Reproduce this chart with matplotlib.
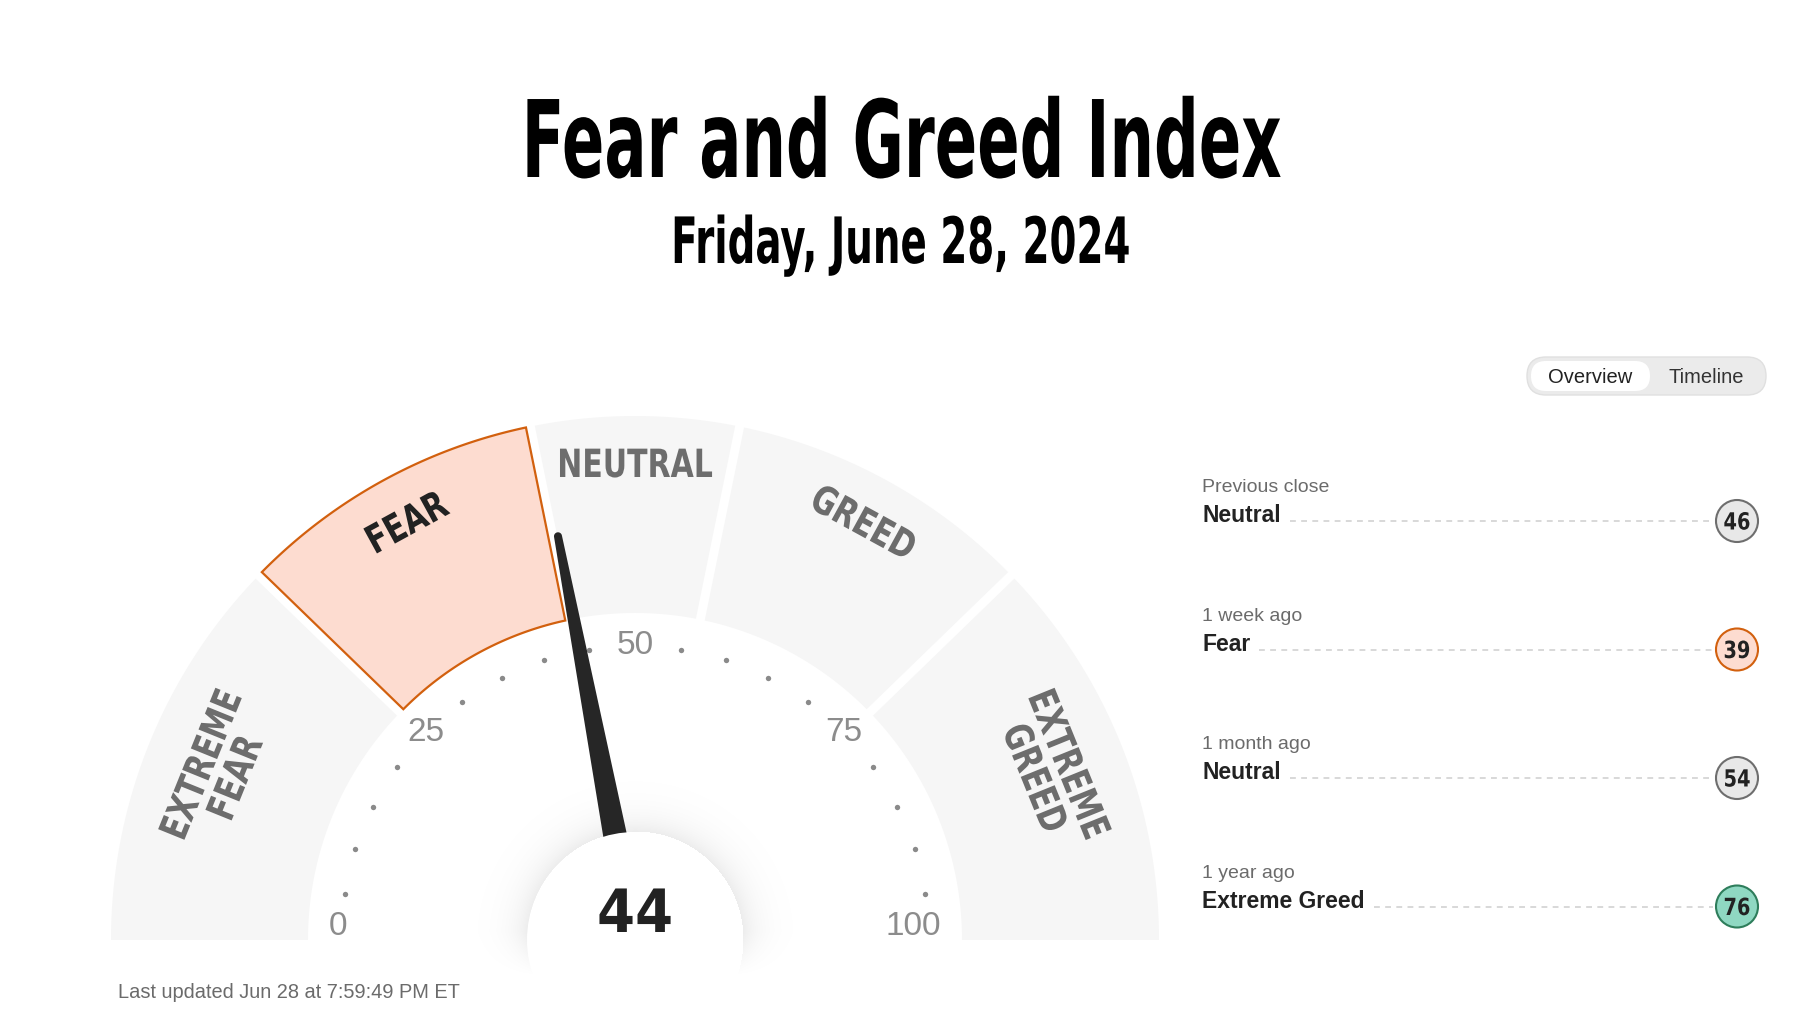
import numpy as np
import matplotlib
matplotlib.use("Agg")
import matplotlib.pyplot as plt
from matplotlib.patches import Polygon, Circle, FancyBboxPatch
from matplotlib.patheffects import AbstractPathEffect
from matplotlib.path import Path
from matplotlib import font_manager as fm

# ---------------- data ----------------
title = "Fear and Greed Index"
subtitle = "Friday, June 28, 2024"
current_value = 44
current_zone = "FEAR"
zone_names = ["EXTREME\nFEAR", "FEAR", "NEUTRAL", "GREED", "EXTREME\nGREED"]
zone_edges = [0, 24.5, 43.6, 56.4, 75.5, 100]
tick_major = [0, 25, 50, 75, 100]
tick_step = 5
history_periods = ["Previous close", "1 week ago", "1 month ago", "1 year ago"]
history_ratings = ["Neutral", "Fear", "Neutral", "Extreme Greed"]
history_values = [46, 39, 54, 76]
toggle_labels = ["Overview", "Timeline"]
updated_text = "Last updated Jun 28 at 7:59:49 PM ET"

# ---------------- setup ----------------
W, H = 1800, 1020
fig = plt.figure(figsize=(18, 10.2), dpi=100)
ax = fig.add_axes([0, 0, 1, 1])
ax.set_xlim(0, W)
ax.set_ylim(H, 0)
ax.axis("off")
PX = 72 / 100.0

names = {f.name for f in fm.fontManager.ttflist}
COND = "Liberation Sans Narrow" if "Liberation Sans Narrow" in names else "DejaVu Sans"
SANS = "Liberation Sans" if "Liberation Sans" in names else "DejaVu Sans"
renderer = fig.canvas.get_renderer()


class HStretch(AbstractPathEffect):
    """Horizontally compress glyph outlines (keeps the Text artist)."""

    def __init__(self, sx, anchor="center"):
        super().__init__()
        self.sx = sx
        self.anchor = anchor

    def draw_path(self, renderer, gc, tpath, affine, rgbFace=None):
        v = np.array(tpath.vertices, dtype=float).copy()
        codes = tpath.codes
        if len(v):
            m = np.ones(len(v), bool) if codes is None else (codes != Path.CLOSEPOLY)
            xs = v[m, 0]
            if len(xs):
                x0 = xs.min() if self.anchor == "left" else (xs.min() + xs.max()) / 2
                v[:, 0] = x0 + (v[:, 0] - x0) * self.sx
        renderer.draw_path(gc, Path(v, codes), affine, rgbFace)


def ctext(x, y, s, cap_px, width_px=None, sx=None, rotation=0, ha="center",
          va="baseline", color="black", family=None, weight="bold", zorder=6, **kw):
    family = family or COND
    size = cap_px / 0.72 * PX
    t = ax.text(x, y, s, fontsize=size, family=family, weight=weight, color=color,
                ha=ha, va=va, rotation_mode="anchor", zorder=zorder, **kw)
    if width_px is not None:
        w = t.get_window_extent(renderer).width
        sx = width_px / w
    if sx is not None:
        t.set_path_effects([HStretch(sx, "left" if ha == "left" else "center")])
    t.set_rotation(rotation)
    return t, sx


# ---------------- titles ----------------
ctext(900, 178, title, 77, width_px=760, color="black")
ctext(900, 264, subtitle, 46, width_px=459, color="black")

# ---------------- gauge ----------------
cx, cy = 635, 941
R_OUT, R_IN = 524, 327
GAP = 9


def theta(v):
    return np.pi * (1 - v / 100.0)


def polar(v, r):
    th = theta(v)
    return cx + r * np.cos(th), cy - r * np.sin(th)


zone_mid_r = {1: 474, 2: 448}
# measure NEUTRAL once to get a common compression for zone labels
_probe, label_sx = ctext(W / 2, H / 2, "NEUTRAL", 28, width_px=156)
_probe.remove()

for i, name in enumerate(zone_names):
    v0, v1 = zone_edges[i], zone_edges[i + 1]
    th0, th1 = theta(v0), theta(v1)

    def edge(r):
        a0 = th0 - (GAP / 2 / r if v0 > 0 else 0)
        a1 = th1 + (GAP / 2 / r if v1 < 100 else 0)
        return a0, a1

    a0o, a1o = edge(R_OUT)
    a0i, a1i = edge(R_IN)
    outer = np.linspace(a0o, a1o, 120)
    inner = np.linspace(a1i, a0i, 120)
    xs = np.concatenate([cx + R_OUT * np.cos(outer), cx + R_IN * np.cos(inner)])
    ys = np.concatenate([cy - R_OUT * np.sin(outer), cy - R_IN * np.sin(inner)])
    active = name == current_zone
    poly = Polygon(np.column_stack([xs, ys]), closed=True,
                   facecolor="#fddcd0" if active else "#f6f6f6",
                   edgecolor="#d2600e" if active else "none",
                   linewidth=1.6 if active else 0, joinstyle="miter", zorder=1)
    ax.add_patch(poly)

    mid = (v0 + v1) / 2
    nlines = name.count("\n") + 1
    lx, ly = polar(mid, zone_mid_r[nlines])
    rot = np.degrees(theta(mid)) - 90
    ctext(lx, ly, name, 28, sx=label_sx, rotation=rot, va="center",
          color="#222222" if active else "#6d6d6d", linespacing=0.95, zorder=2)

# tick dots and labels
for v in range(tick_step, 100, tick_step):
    if v in tick_major:
        continue
    x, y = polar(v, 294)
    ax.scatter([x], [y], s=15, color="#8a8a8a", zorder=2, linewidths=0)

end_label_r = {0: 297, 100: 278}
for v in tick_major:
    x, y = polar(v, end_label_r.get(v, 295))
    if v in (0, 100):
        y = cy - 14
    ax.text(x, y, str(v), fontsize=24, family=SANS, color="#8c8c8c",
            ha="center", va="center", zorder=2)

# needle
th = theta(current_value)
d = np.array([np.cos(th), -np.sin(th)])
nrm = np.array([np.sin(th), np.cos(th)])
c = np.array([cx, cy], float)
pts = [c + 100 * d - 12 * nrm]
for phi in np.linspace(-np.pi / 2, np.pi / 2, 20):
    pts.append(c + (411 + 4 * np.cos(phi)) * d + 4 * np.sin(phi) * nrm)
pts.append(c + 100 * d + 12 * nrm)
ax.add_patch(Polygon(np.array(pts), closed=True, facecolor="#262626",
                     edgecolor="none", zorder=4))

# soft shadow around the centre disc (fading out toward the bottom)
R_DISC = 108
gx = np.arange(cx - 180, cx + 181)
gy = np.arange(cy - 180, 1000)
GX, GY = np.meshgrid(gx, gy)
rr = np.hypot(GX - cx, GY - cy)
alpha = 0.075 * np.exp(-np.clip(rr - R_DISC, 0, None) / 17.0)
alpha[rr < R_DISC] = 0
alpha *= np.clip((978 - GY) / 45.0, 0, 1)
rgba = np.zeros(GX.shape + (4,))
rgba[..., 3] = alpha
ax.imshow(rgba, extent=(gx[0] - 0.5, gx[-1] + 0.5, gy[-1] + 0.5, gy[0] - 0.5),
          origin="upper", interpolation="bilinear", zorder=3.5)
ax.add_patch(Circle((cx, cy), R_DISC, facecolor="white", edgecolor="none", zorder=5))
ctext(cx, 933, str(current_value), 43, width_px=76, color="#222222", zorder=6)

# ---------------- toggle ----------------
ax.add_patch(FancyBboxPatch((1527, 358), 239, 38,
                            boxstyle="round,pad=0,rounding_size=19",
                            facecolor="#ebebeb", edgecolor="#e0e0e0", lw=1, zorder=1))
ax.add_patch(FancyBboxPatch((1531, 362), 119, 30,
                            boxstyle="round,pad=0,rounding_size=15",
                            facecolor="white", edgecolor="none", zorder=2))
ax.text(1590, 378, toggle_labels[0], fontsize=14.5, family=SANS, color="#222222",
        ha="center", va="center", zorder=3)
ax.text(1706, 378, toggle_labels[1], fontsize=14.5, family=SANS, color="#333333",
        ha="center", va="center", zorder=3)

# ---------------- history rows ----------------
badge_style = {
    "Neutral": ("#e8e8e8", "#6e6e6e"),
    "Fear": ("#fddcd0", "#d2600e"),
    "Greed": ("#cdebe0", "#2e7d5b"),
    "Extreme Greed": ("#8fd8c2", "#2e7d5b"),
    "Extreme Fear": ("#f8c5b0", "#c0392b"),
}
row_y0, row_dy = 488, 128.5
bx, br = 1737, 21
for i, (per, rat, val) in enumerate(zip(history_periods, history_ratings, history_values)):
    y = row_y0 + i * row_dy
    ax.text(1202, y, per, fontsize=14, family=SANS, color="#6b6b6b",
            ha="left", va="center", zorder=3)
    t = ax.text(1202, y + 28, rat, fontsize=16.5, family=SANS, weight="bold",
                color="#222222", ha="left", va="center", zorder=3)
    x_end = t.get_window_extent(renderer).x1
    by = y + 34
    ax.plot([x_end + 9, bx - br - 3], [by, by], color="#d2d2d2", lw=1.2,
            dashes=(3.5, 3.2), zorder=2)
    fc, ec = badge_style[rat]
    ax.add_patch(Circle((bx, by), br, facecolor=fc, edgecolor=ec, lw=1.5, zorder=3))
    ctext(bx, by + 8.5, str(val), 17, width_px=27, color="#222222", zorder=4)

ax.text(118, 993, updated_text, fontsize=14.4, family=SANS, color="#6b6b6b",
        ha="left", va="center")

ax.set_aspect("auto")
ax.set_xlim(0, W)
ax.set_ylim(H, 0)
fig.savefig("out.png", dpi=100)
